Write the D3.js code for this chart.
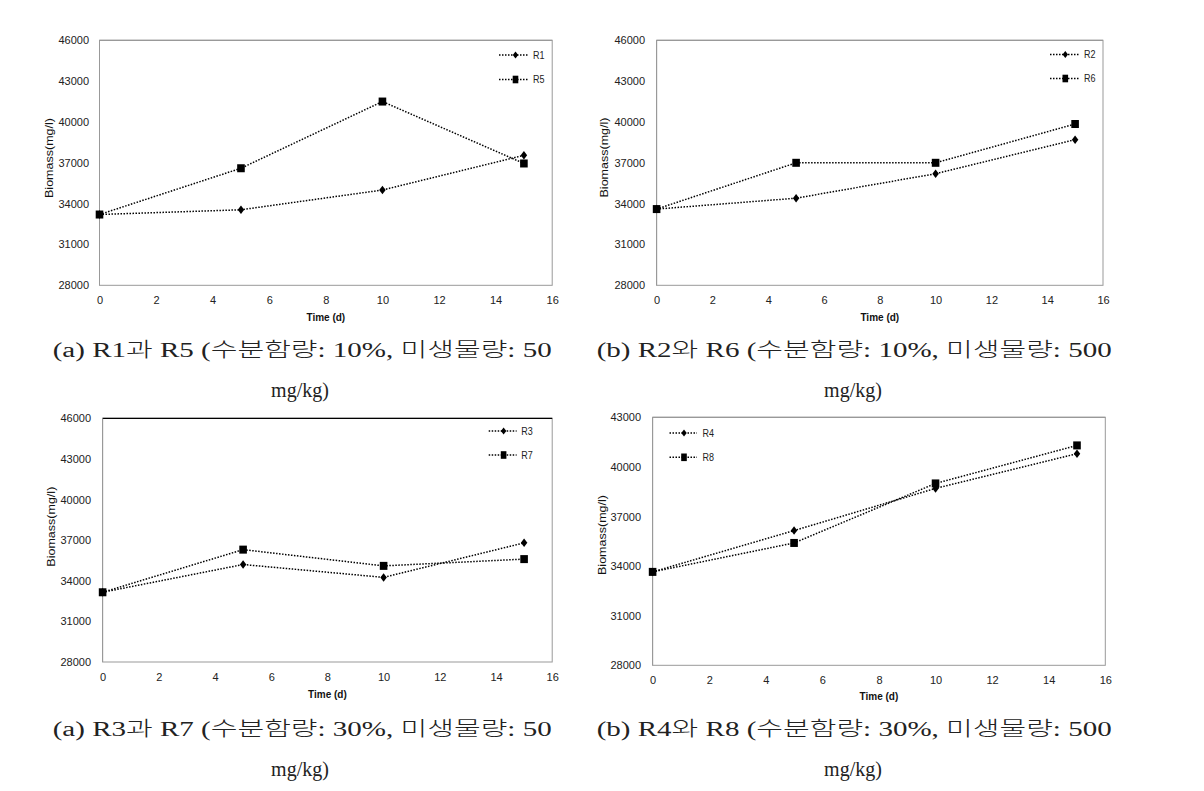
<!DOCTYPE html>
<html>
<head>
<meta charset="utf-8">
<script src="https://cdn.jsdelivr.net/npm/d3@7"></script>
<style>
  html, body { margin: 0; padding: 0; background: #fff; }
  svg { display: block; }
</style>
</head>
<body>
<svg id="chart" width="1204" height="791"></svg>
<script>
// ---------- data ----------
const times = [0, 5, 10, 15];
const R1 = [33200, 33550, 35000, 37550];
const R5 = [33200, 36600, 41500, 36950];
const R2 = [33600, 34400, 36200, 38700];
const R6 = [33600, 37000, 37000, 39850];
const R3 = [33150, 35200, 34250, 36800];
const R7 = [33150, 36300, 35100, 35600];
const R4 = [33650, 36150, 38700, 40800];
const R8 = [33650, 35400, 39000, 41300];
const xTicks = [0, 2, 4, 6, 8, 10, 12, 14, 16];
const yTicksA = [28000, 31000, 34000, 37000, 40000, 43000, 46000];
const yTicksB = [28000, 31000, 34000, 37000, 40000, 43000];
const xTitle = "Time (d)";
const yTitle = "Biomass(mg/l)";
const captionsLine1 = [
  "(a) R1과 R5 (수분함량: 10%, 미생물량: 50",
  "(b) R2와 R6 (수분함량: 10%, 미생물량: 500",
  "(a) R3과 R7 (수분함량: 30%, 미생물량: 50",
  "(b) R4와 R8 (수분함량: 30%, 미생물량: 500"
];
const captionLine2 = "mg/kg)";

// ---------- layout ----------
const panels = [
  { diamond: ["R1", R1], square: ["R5", R5], yTicks: yTicksA,
    L: 99.5, R: 552.2, T: 40.3, B: 285.3, labR: 89, ytX: 49, ytY: 158,
    xlY: 302, xtY: 317, leg: { x0: 499, x1: 529, m: 515.5, y0: 55, y1: 79.5, tx: 533 },
    cap: { x0: 52.7, x1: 551.7, y1: 350, y2: 390, cx: 300 }, topBorder: "#999" },
  { diamond: ["R2", R2], square: ["R6", R6], yTicks: yTicksA,
    L: 656.6, R: 1103, T: 40.3, B: 285.3, labR: 645, ytX: 604, ytY: 157.5,
    xlY: 302, xtY: 317, leg: { x0: 1050, x1: 1079, m: 1065.3, y0: 54.5, y1: 78.5, tx: 1084 },
    cap: { x0: 596.7, x1: 1111.7, y1: 350, y2: 390, cx: 853 }, topBorder: "#999" },
  { diamond: ["R3", R3], square: ["R7", R7], yTicks: yTicksA,
    L: 102.6, R: 552.2, T: 418.3, B: 662, labR: 91, ytX: 51.3, ytY: 526.7,
    xlY: 679, xtY: 694, leg: { x0: 488.7, x1: 516.6, m: 503.6, y0: 431, y1: 455, tx: 521.2 },
    cap: { x0: 52.7, x1: 551.7, y1: 729, y2: 769, cx: 300 }, topBorder: "#000" },
  { diamond: ["R4", R4], square: ["R8", R8], yTicks: yTicksB,
    L: 652.6, R: 1105.3, T: 417.3, B: 665.3, labR: 641, ytX: 601.7, ytY: 535,
    xlY: 682, xtY: 696, leg: { x0: 669.5, x1: 697, m: 684, y0: 433, y1: 457.3, tx: 702.4 },
    cap: { x0: 596.7, x1: 1111.7, y1: 729, y2: 769, cx: 853 }, topBorder: "#999" }
];

const svg = d3.select("#chart");
const sans = "'Liberation Sans', Arial, sans-serif";
const serif = "'Liberation Serif', 'Noto Sans CJK KR', serif";
const dash = "1.5,1.5";

function diamondPath(w, h) {
  return `M0,${-h/2}L${w/2},0L0,${h/2}L${-w/2},0Z`;
}

panels.forEach((p, i) => {
  const yMax = d3.max(p.yTicks), yMin = d3.min(p.yTicks);
  const x = d3.scaleLinear().domain([0, 16]).range([p.L, p.R]);
  const y = d3.scaleLinear().domain([yMin, yMax]).range([p.B, p.T]);
  const g = svg.append("g");

  // frame
  g.append("rect").attr("x", p.L).attr("y", p.T)
    .attr("width", p.R - p.L).attr("height", p.B - p.T)
    .attr("fill", "#fff").attr("stroke", "#999").attr("stroke-width", 1);
  g.append("line").attr("x1", p.L).attr("x2", p.R).attr("y1", p.T).attr("y2", p.T)
    .attr("stroke", p.topBorder).attr("stroke-width", 1.2);

  // axes (no tick marks, labels only)
  const yAxis = d3.axisLeft(y).tickValues(p.yTicks).tickSize(0).tickPadding(0)
    .tickFormat(d3.format("d"));
  const ya = g.append("g").attr("transform", `translate(${p.labR},0)`).call(yAxis);
  ya.select(".domain").remove();
  ya.selectAll("text").attr("font-family", sans).attr("font-size", 11).attr("fill", "#222");

  const xAxis = d3.axisBottom(x).tickValues(xTicks).tickSize(0).tickPadding(0)
    .tickFormat(d3.format("d"));
  const xa = g.append("g").attr("transform", `translate(0,${p.xlY - 6})`).call(xAxis);
  xa.select(".domain").remove();
  xa.selectAll("text").attr("font-family", sans).attr("font-size", 11).attr("fill", "#222")
    .attr("dy", "0.71em");
  g.append("line").attr("x1", p.L).attr("x2", p.L).attr("y1", p.T).attr("y2", p.B)
    .attr("stroke", "#999");

  // titles
  g.append("text").attr("x", (p.L + p.R) / 2).attr("y", p.xtY).attr("dy", "0.35em")
    .attr("text-anchor", "middle").attr("font-family", sans).attr("font-weight", "bold")
    .attr("font-size", 10).attr("fill", "#111").text(xTitle);
  g.append("text").attr("transform", `translate(${p.ytX},${p.ytY}) rotate(-90)`)
    .attr("dy", "0.35em").attr("text-anchor", "middle").attr("font-family", sans)
    .attr("font-size", 11.5).attr("fill", "#111")
    .attr("textLength", 80).attr("lengthAdjust", "spacingAndGlyphs").text(yTitle);

  // series
  const line = d3.line().x((d, k) => x(times[k])).y(d => y(d));
  [p.diamond, p.square].forEach(s => {
    g.append("path").datum(s[1]).attr("d", line)
      .attr("fill", "none").attr("stroke", "#000").attr("stroke-width", 1.5)
      .attr("stroke-dasharray", dash);
  });
  g.selectAll(".dm").data(p.diamond[1]).join("path")
    .attr("transform", (d, k) => `translate(${x(times[k])},${y(d)})`)
    .attr("d", diamondPath(6.5, 8.5)).attr("fill", "#000");
  g.selectAll(".sq").data(p.square[1]).join("rect")
    .attr("x", (d, k) => x(times[k]) - 3.8).attr("y", d => y(d) - 4)
    .attr("width", 7.6).attr("height", 8).attr("fill", "#000");

  // legend
  const lg = p.leg;
  [[p.diamond[0], lg.y0, "d"], [p.square[0], lg.y1, "s"]].forEach(([name, ly, kind]) => {
    g.append("line").attr("x1", lg.x0).attr("x2", lg.x1).attr("y1", ly).attr("y2", ly)
      .attr("stroke", "#000").attr("stroke-width", 1.5).attr("stroke-dasharray", dash);
    if (kind === "d") {
      g.append("path").attr("transform", `translate(${lg.m},${ly})`)
        .attr("d", diamondPath(5.5, 7)).attr("fill", "#000");
    } else {
      g.append("rect").attr("x", lg.m - 2.8).attr("y", ly - 3.8)
        .attr("width", 5.6).attr("height", 7.6).attr("fill", "#000");
    }
    g.append("text").attr("x", lg.tx).attr("y", ly).attr("dy", "0.35em")
      .attr("font-family", sans).attr("font-size", 11).attr("fill", "#222")
      .attr("textLength", 11.5).attr("lengthAdjust", "spacingAndGlyphs").text(name);
  });

  // captions
  g.append("text").attr("x", p.cap.x0).attr("y", p.cap.y1).attr("dy", "0.35em")
    .attr("font-family", serif).attr("font-size", 20).attr("font-weight", 300)
    .attr("fill", "#222")
    .attr("textLength", p.cap.x1 - p.cap.x0).attr("lengthAdjust", "spacingAndGlyphs")
    .text(captionsLine1[i]);
  g.append("text").attr("x", p.cap.cx).attr("y", p.cap.y2).attr("dy", "0.35em")
    .attr("text-anchor", "middle")
    .attr("font-family", serif).attr("font-size", 20).attr("font-weight", 300)
    .attr("fill", "#222")
    .text(captionLine2);
});
</script>
</body>
</html>
